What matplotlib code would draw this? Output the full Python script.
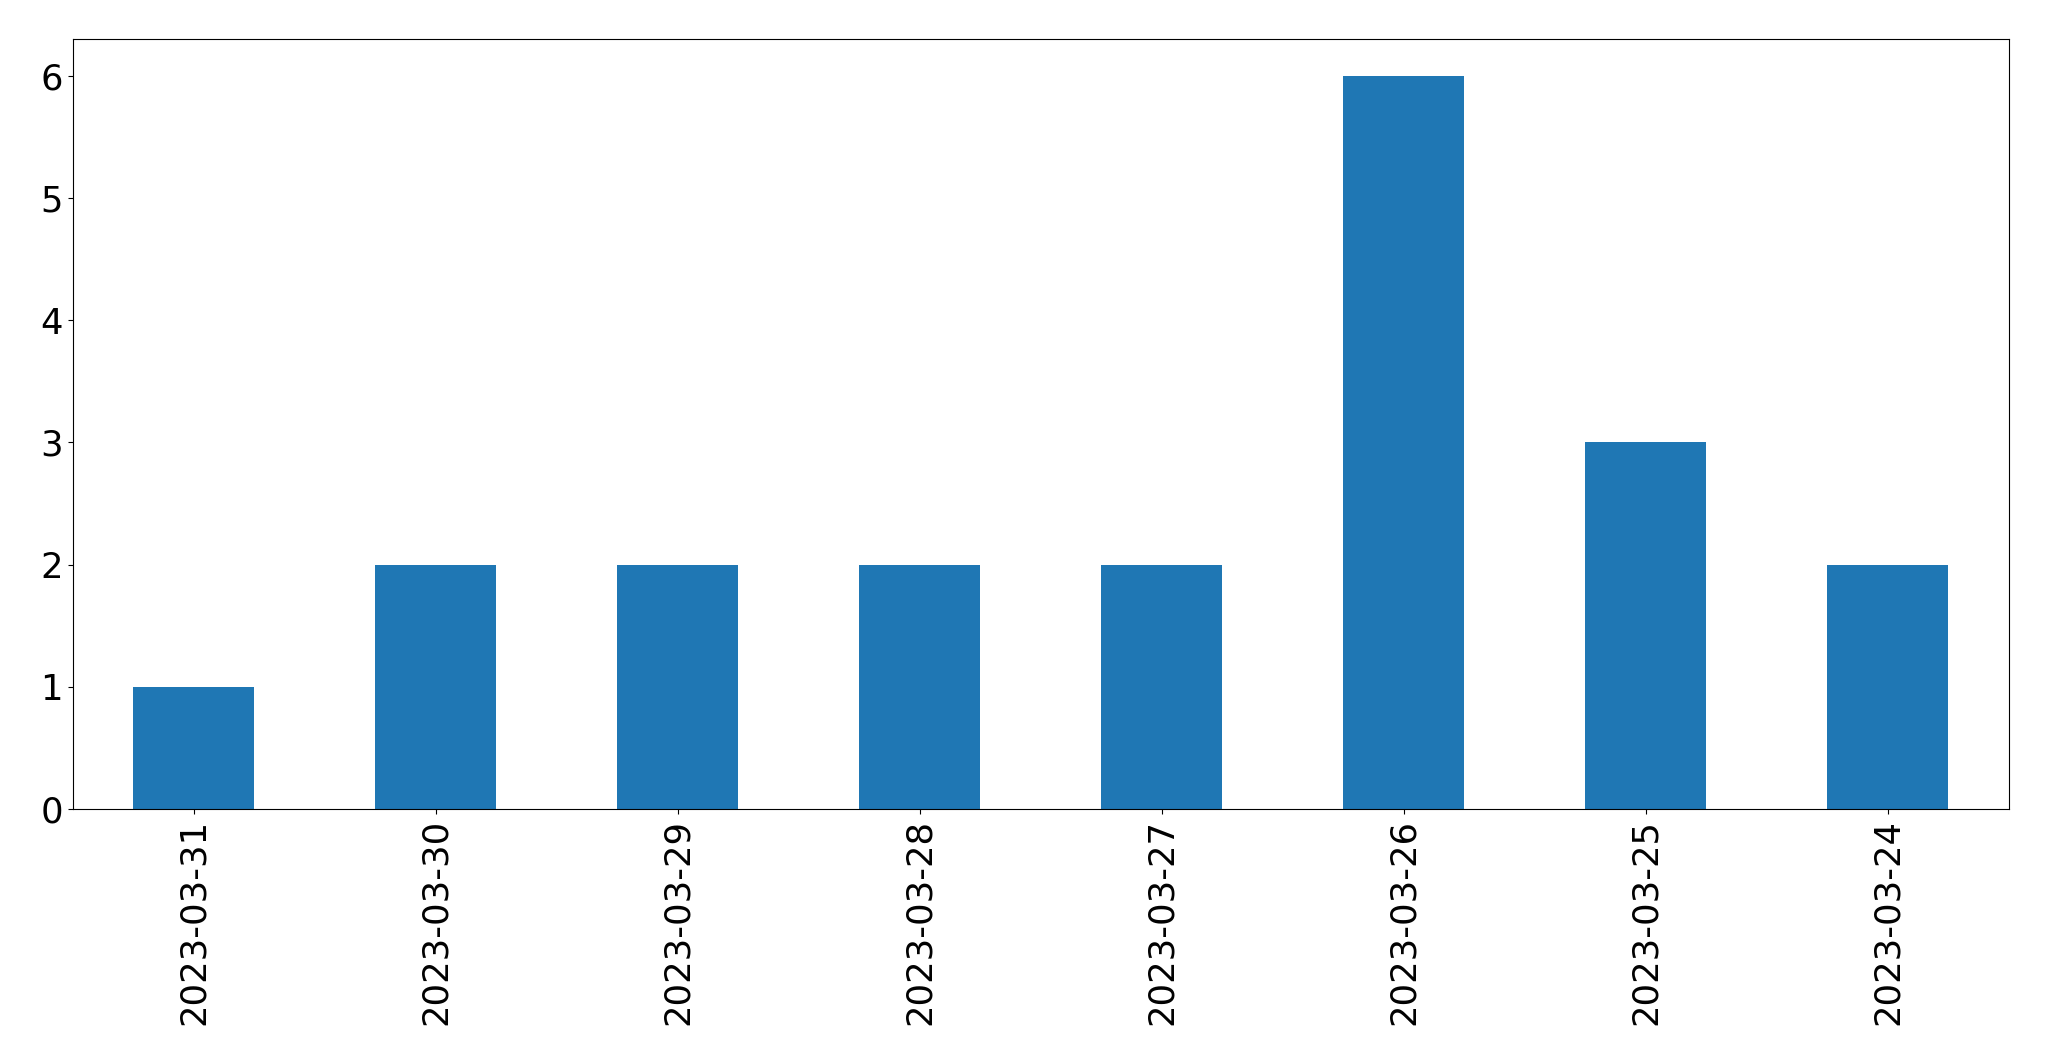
import matplotlib
matplotlib.use("Agg")
import matplotlib.pyplot as plt

dates = ["2023-03-31", "2023-03-30", "2023-03-29", "2023-03-28",
         "2023-03-27", "2023-03-26", "2023-03-25", "2023-03-24"]
counts = [1, 2, 2, 2, 2, 6, 3, 2]

fig = plt.figure(figsize=(20.49, 10.61), dpi=100)
ax = fig.add_axes([72.5 / 2049, 1 - 809 / 1061, (2009 - 72.5) / 2049, (809 - 39) / 1061])
x = list(range(len(dates)))
ax.bar(x, counts, width=0.5, color="#1f77b4")
ax.set_xlim(-0.5, len(dates) - 0.5)
ax.set_ylim(0, 6.3)
ax.set_xticks(x)
ax.set_xticklabels(dates, rotation=90)
ax.tick_params(labelsize=25.5)
fig.savefig("out.png", dpi=100)
